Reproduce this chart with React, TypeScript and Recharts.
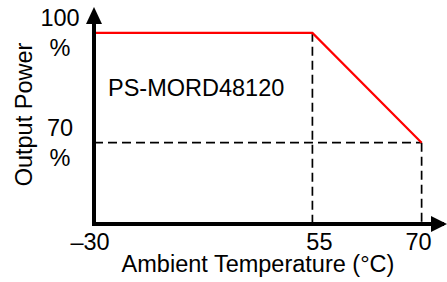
import { LineChart, Line, XAxis, YAxis, ReferenceLine } from 'recharts';

const FONT = '"Liberation Sans", Arial, sans-serif';
const FS = 23.5;

// derating curve: output power (%) vs ambient temperature (°C)
const TEMPS = [-30, 55, 70];
const POWER = [100, 100, 70];
const X_TICKS = [-30, 55, 70];
const Y_TICKS = [70, 100];
const X_DOMAIN = [-30, 72.8];
const Y_DOMAIN = [47.8, 105.7];
const MODEL = 'PS-MORD48120';
const X_LABEL = 'Ambient Temperature (°C)';
const Y_LABEL = 'Output Power';

const data = TEMPS.map((t, i) => ({ temp: t, power: POWER[i] }));

// schematic temperature axis: -30..55 takes twice the room of 55..70
function tempScale(): any {
  let dom: number[] = X_DOMAIN.slice();
  let rng: number[] = [0, 1];
  const warp = (v: number) => (v <= 55 ? ((v + 30) / 85) * 2 : 2 + (v - 55) / 15);
  const s: any = (v: number) => {
    const a = warp(dom[0]);
    const b = warp(dom[dom.length - 1]);
    return rng[0] + ((warp(v) - a) / (b - a)) * (rng[rng.length - 1] - rng[0]);
  };
  s.domain = (d?: number[]) => (d === undefined ? dom : ((dom = d.slice()), s));
  s.range = (r?: number[]) => (r === undefined ? rng : ((rng = r.slice()), s));
  s.copy = () => tempScale().domain(dom).range(rng);
  s.ticks = () => X_TICKS;
  return s;
}

const fmtTemp = (v: number) => (v < 0 ? `–${Math.abs(v)}` : `${v}`);

// the labels in the source sit a little off their ticks
const tickNudge = (v: number) => (v < 0 ? -4 : v === 55 ? 7 : -3);

const XTick = ({ x, y, payload }: any) => (
  <text
    x={x + tickNudge(payload.value)}
    y={y + 26}
    textAnchor="middle"
    fontSize={FS}
    fontFamily={FONT}
    fill="#000"
  >
    {fmtTemp(payload.value)}
  </text>
);

const YTick = ({ x, y, payload }: any) => (
  <text x={x - 34} y={y} textAnchor="middle" fontSize={FS} fontFamily={FONT} fill="#000">
    <tspan x={x - 34} dy={-6.5}>{payload.value}</tspan>
    <tspan x={x - 34} dy={30}>%</tspan>
  </text>
);

export default function App() {
  return (
    <div style={{ position: 'absolute', left: 0, top: 0, background: '#fff' }}>
      <LineChart
        width={447}
        height={282}
        data={data}
        margin={{ top: 12, right: 5, bottom: 0, left: 0 }}
      >
        <defs>
          <marker
            id="arrowRight"
            markerUnits="userSpaceOnUse"
            markerWidth={18}
            markerHeight={18}
            refX={11}
            refY={8}
            overflow="visible"
          >
            <path d="M0,0 L16,8 L0,16 z" fill="#000" />
          </marker>
          <marker
            id="arrowUp"
            markerUnits="userSpaceOnUse"
            markerWidth={18}
            markerHeight={18}
            refX={8}
            refY={5}
            overflow="visible"
          >
            <path d="M0,17 L8,0 L16,17 z" fill="#000" />
          </marker>
        </defs>

        <ReferenceLine
          segment={[{ x: -30, y: 70 }, { x: 70, y: 70 }]}
          stroke="#000"
          strokeWidth={1.7}
          strokeDasharray="9 5"
          ifOverflow="visible"
        />
        <ReferenceLine
          segment={[{ x: 55, y: 100 }, { x: 55, y: Y_DOMAIN[0] }]}
          stroke="#000"
          strokeWidth={1.7}
          strokeDasharray="9 5"
          ifOverflow="visible"
        />
        <ReferenceLine
          segment={[{ x: 70, y: 70 }, { x: 70, y: Y_DOMAIN[0] }]}
          stroke="#000"
          strokeWidth={1.7}
          strokeDasharray="9 5"
          ifOverflow="visible"
        />

        <Line
          type="linear"
          dataKey="power"
          stroke="#ff0000"
          strokeWidth={2.2}
          dot={false}
          isAnimationActive={false}
        />

        <XAxis
          dataKey="temp"
          type="number"
          scale={tempScale()}
          domain={X_DOMAIN}
          ticks={X_TICKS}
          allowDataOverflow
          height={58}
          tickLine={false}
          tickSize={0}
          tickMargin={0}
          tick={<XTick />}
          axisLine={{ stroke: '#000', strokeWidth: 4, strokeLinecap: 'square', markerEnd: 'url(#arrowRight)' }}
          label={{ value: X_LABEL, position: 'insideBottom', offset: 10, dx: -10, fontSize: FS, fontFamily: FONT, fill: '#000' }}
        />
        <YAxis
          type="number"
          domain={Y_DOMAIN}
          ticks={Y_TICKS}
          allowDataOverflow
          width={94}
          tickLine={false}
          tickSize={0}
          tickMargin={0}
          tick={<YTick />}
          axisLine={{ stroke: '#000', strokeWidth: 4, markerStart: 'url(#arrowUp)' }}
          label={{
            content: ({ viewBox }: any) => {
              const cx = viewBox.x + 32;
              const cy = viewBox.y + viewBox.height / 2 - 3.5;
              return (
                <text
                  transform={`translate(${cx},${cy}) rotate(-90)`}
                  textAnchor="middle"
                  fontSize={FS}
                  fontFamily={FONT}
                  fill="#000"
                >
                  {Y_LABEL}
                </text>
              );
            },
          }}
        />

        <text x={108} y={96} fontSize={FS} fontFamily={FONT} fill="#000">
          {MODEL}
        </text>
      </LineChart>
    </div>
  );
}
